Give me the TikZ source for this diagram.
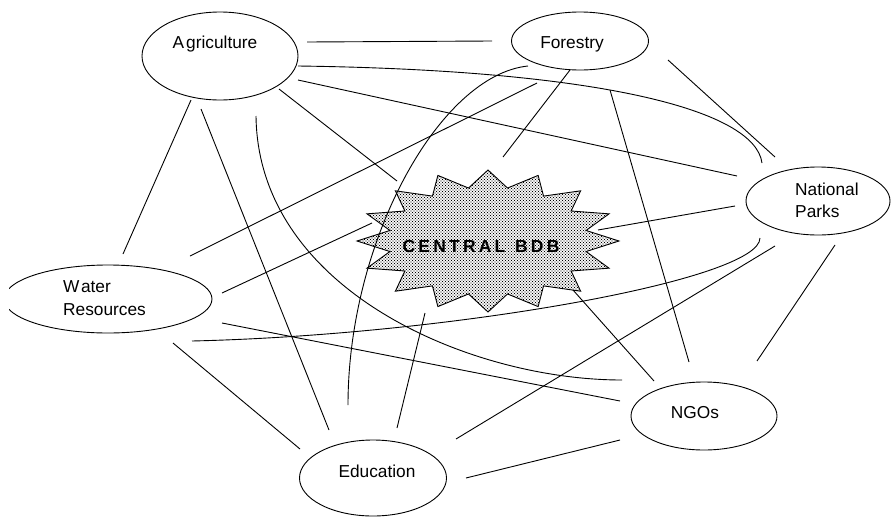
\documentclass[tikz,border=0pt]{standalone}
\usepackage{fontspec}
\setmainfont{Liberation Sans}
\usetikzlibrary{patterns,shapes.geometric}
\pgfdeclarepatternformonly{stardots}{\pgfqpoint{-1pt}{-1pt}}{\pgfqpoint{4pt}{4pt}}{\pgfqpoint{3pt}{3pt}}{%
  \pgfpathcircle{\pgfqpoint{0pt}{0pt}}{0.6pt}%
  \pgfpathcircle{\pgfqpoint{1.5pt}{1.5pt}}{0.6pt}%
  \pgfusepath{fill}}
\begin{document}
\begin{tikzpicture}[x=1pt,y=-1pt,
  ell/.style={draw, ellipse, line width=0.9pt, inner sep=0pt},
  lbl/.style={font=\fontsize{17.3}{23}\selectfont, inner sep=0pt},
  link/.style={line width=0.9pt},
  starbox/.style={line width=0.9pt, pattern=stardots, pattern color=black},
]
\useasboundingbox (0,0) rectangle (891,517);

% ---------- central starburst ----------
\fill[white] (619,241)
  \foreach \k in {0,...,15} {
    -- ({488+100*cos(22.5*\k+11.25)},{241+54*sin(22.5*\k+11.25)})
    -- ({488+131*cos(22.5*\k+22.5)},{241+71*sin(22.5*\k+22.5)})
  } -- cycle;
\draw[starbox] (619,241)
  \foreach \k in {0,...,15} {
    -- ({488+100*cos(22.5*\k+11.25)},{241+54*sin(22.5*\k+11.25)})
    -- ({488+131*cos(22.5*\k+22.5)},{241+71*sin(22.5*\k+22.5)})
  } -- cycle;
\node[font=\fontsize{17.5}{20}\selectfont\bfseries, inner sep=0pt, anchor=base] (central) at (481,252)
  {\makebox[157pt][s]{C\hfil E\hfil N\hfil T\hfil R\hfil A\hfil L\hfil\hfil\hfil B\hfil D\hfil B}};

% ---------- ellipses ----------
\node[ell, minimum width=156, minimum height=88] (agr) at (220,56) {};
\node[ell, minimum width=137, minimum height=58] (for) at (580,41) {};
\node[ell, minimum width=144, minimum height=68] (np) at (818,201) {};
\begin{scope}
  \clip (9,250) rectangle (300,350);
  \node[ell, minimum width=208, minimum height=68] (wat) at (108,299) {};
\end{scope}
\node[ell, minimum width=147, minimum height=76] (edu) at (373,478) {};
\node[ell, minimum width=146, minimum height=68] (ngo) at (704,416) {};

% ---------- labels ----------
\node[lbl, anchor=base] (agrT) at (215,48) {A\kern2pt griculture};
\node[lbl, anchor=base] (forT) at (572,48) {Forestry};
\node[lbl, anchor=base west] (npT1) at (795,195) {National};
\node[lbl, anchor=base west] (npT2) at (795,217) {Parks};
\node[lbl, anchor=base west] (watT1) at (63,292) {W\kern1.5pt ater};
\node[lbl, anchor=base west] (watT2) at (63,315) {Resources};
\node[lbl, anchor=base] (eduT) at (377,477) {Education};
\node[lbl, anchor=base] (ngoT) at (695,418) {NGOs};

% ---------- connector end points ----------
\coordinate (agrA) at (307,42);  \coordinate (forA) at (492,41);
\coordinate (agrB) at (298,66);  \coordinate (npB)  at (762,163);
\coordinate (agrC) at (298,80);  \coordinate (npC)  at (737,176);
\coordinate (agrD) at (279,89);  \coordinate (cenD) at (397,181);
\coordinate (agrE) at (191,100); \coordinate (watE) at (123,254);
\coordinate (agrF) at (201,109); \coordinate (eduF) at (329,430);
\coordinate (agrG) at (256,116); \coordinate (ngoG) at (622,380);
\coordinate (forH) at (537,83);  \coordinate (watH) at (190,256);
\coordinate (forI) at (570,70);  \coordinate (cenI) at (503,157);
\coordinate (forJ) at (610,90);  \coordinate (ngoJ) at (689,362);
\coordinate (forK) at (668,60);  \coordinate (npK)  at (775,157);
\coordinate (forL) at (528,66);  \coordinate (eduL) at (348,405);
\coordinate (npM)  at (735,206); \coordinate (cenM) at (598,230);
\coordinate (npN)  at (760,238); \coordinate (watN) at (192,341);
\coordinate (npO)  at (775,246); \coordinate (eduO) at (456,439);
\coordinate (npP)  at (835,245); \coordinate (ngoP) at (757,361);
\coordinate (watQ) at (222,293); \coordinate (cenQ) at (372,223);
\coordinate (watR) at (222,323); \coordinate (ngoR) at (620,401);
\coordinate (watS) at (173,343); \coordinate (eduS) at (300,449);
\coordinate (eduT) at (397,428); \coordinate (cenT) at (425,313);
\coordinate (eduU) at (466,478); \coordinate (ngoU) at (620,440);
\coordinate (cenV) at (573,290); \coordinate (ngoV) at (654,381);

% ---------- connectors ----------
\draw[link] (agrA) -- (forA);
\draw[link] (agrB) .. controls (600,70) and (755,110) .. (npB);
\draw[link] (agrC) -- (npC);
\draw[link] (agrD) -- (cenD);
\draw[link] (agrE) -- (watE);
\draw[link] (agrF) -- (eduF);
\draw[link] (agrG) .. controls (258,290) and (470,380) .. (ngoG);
\draw[link] (forH) -- (watH);
\draw[link] (forI) -- (cenI);
\draw[link] (forJ) -- (ngoJ);
\draw[link] (forK) -- (npK);
\draw[link] (forL) .. controls (440,75) and (348,240) .. (eduL);
\draw[link] (npM) -- (cenM);
\draw[link] (npN) .. controls (760,280) and (450,335) .. (watN);
\draw[link] (npO) -- (eduO);
\draw[link] (npP) -- (ngoP);
\draw[link] (watQ) -- (cenQ);
\draw[link] (watR) -- (ngoR);
\draw[link] (watS) -- (eduS);
\draw[link] (eduT) -- (cenT);
\draw[link] (eduU) -- (ngoU);
\draw[link] (cenV) -- (ngoV);
\end{tikzpicture}
\end{document}
